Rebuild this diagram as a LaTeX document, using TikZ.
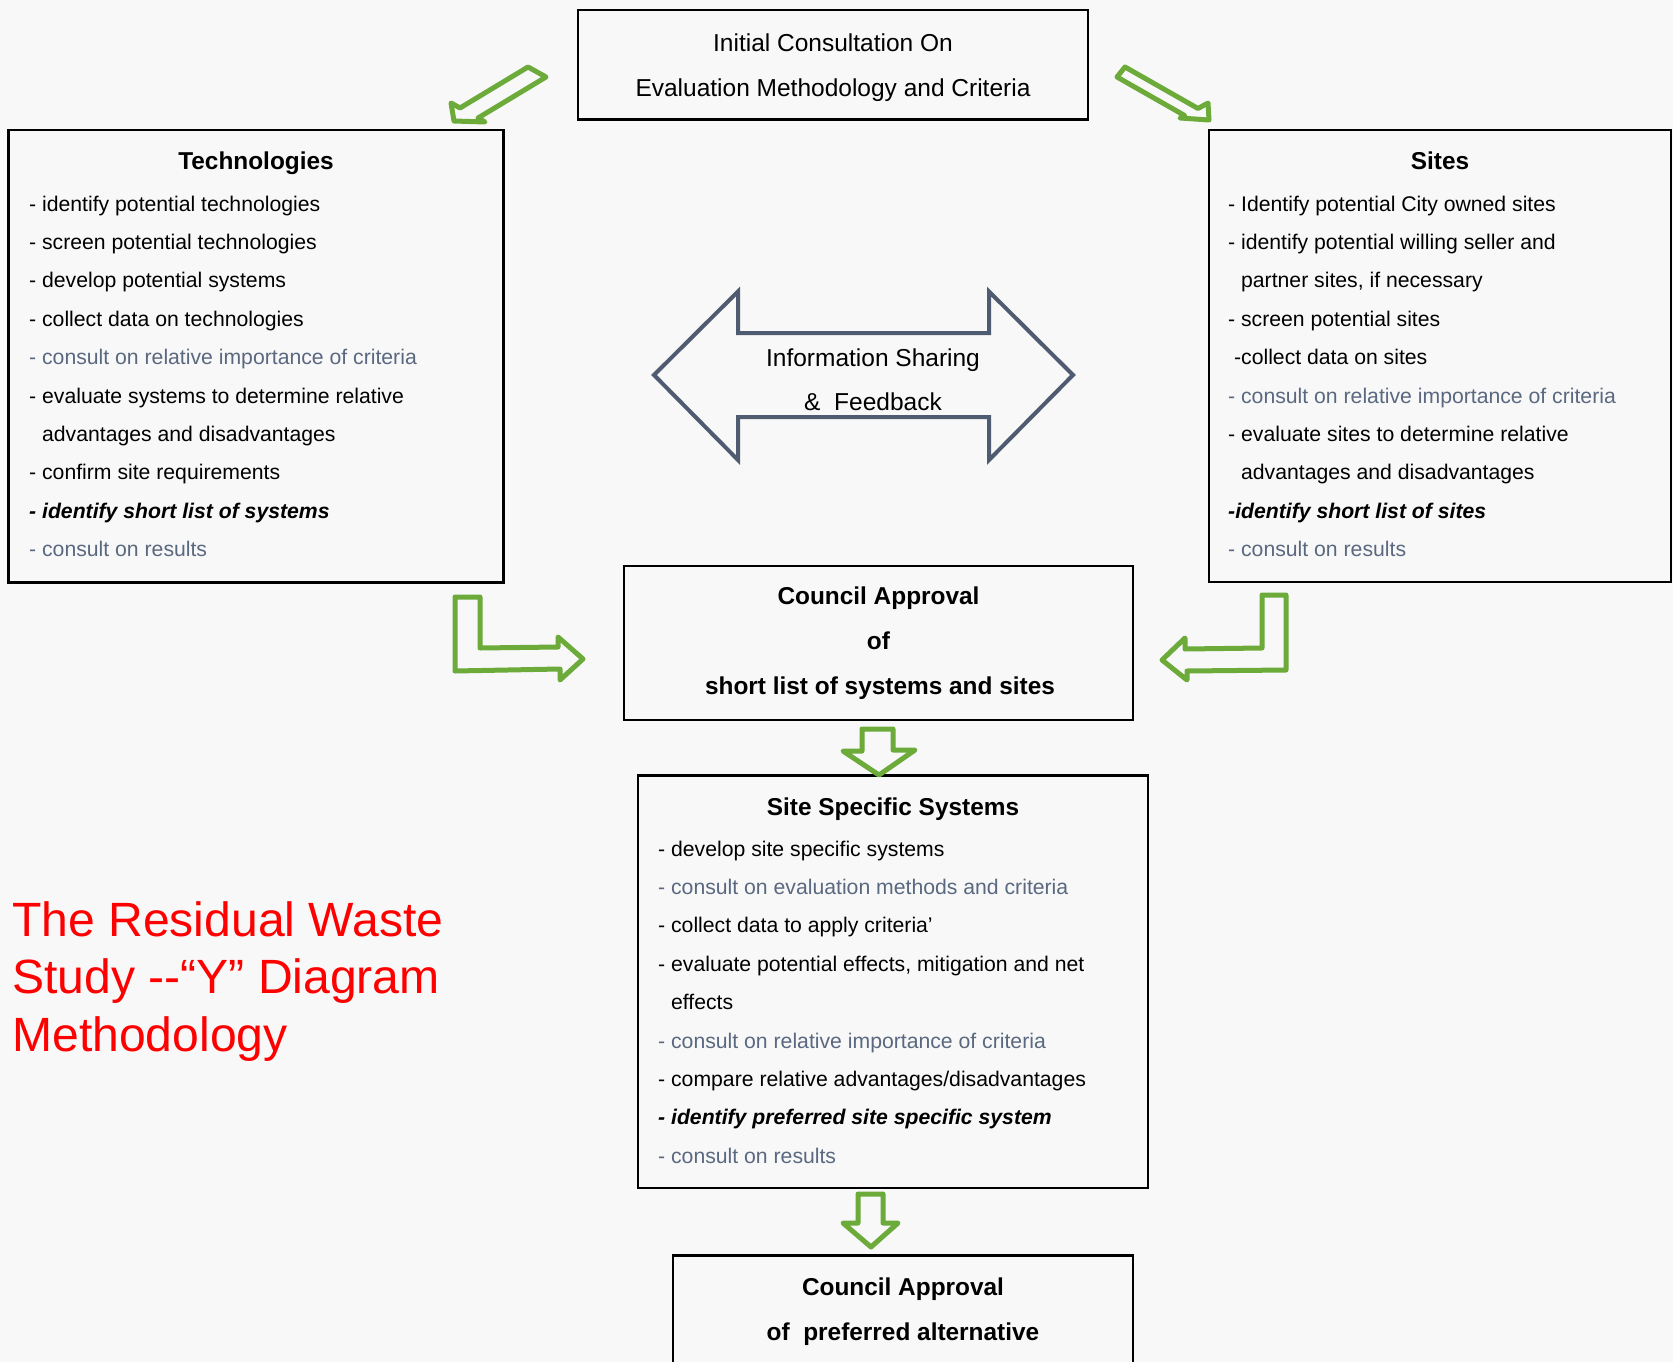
\documentclass[tikz,border=0pt]{standalone}
\usepackage{fontspec}
\setmainfont{Liberation Sans}
\usetikzlibrary{calc}

\definecolor{arrowgreen}{RGB}{108,170,58}
\definecolor{slate}{RGB}{79,91,112}
\definecolor{consult}{RGB}{90,104,128}
\definecolor{bgcol}{RGB}{248,248,248}

\begin{document}
\begin{tikzpicture}[x=1pt, y=-1pt,
  box/.style={draw=black, line width=2.5pt, inner sep=0pt},
  item/.style={anchor=base west, inner sep=0pt, font=\fontsize{21.2}{25}\selectfont},
  head/.style={anchor=base, inner sep=0pt, font=\fontsize{24.4}{29}\selectfont\bfseries},
  plain/.style={anchor=base, inner sep=0pt, font=\fontsize{24.5}{29}\selectfont},
  redtitle/.style={anchor=base west, inner sep=0pt, text=red, font=\fontsize{48.1}{57}\selectfont},
  greenarrow/.style={draw=arrowgreen, line width=5pt, line join=round},
  ]

  % 画布参数
  \def\rowstep{38.4}

  % 背景
  \fill[bgcol] (0,0) rectangle (1673,1362);
  \useasboundingbox (0,0) rectangle (1673,1362);

  % 方框
  \node[box, minimum width=510pt, minimum height=109.5pt] (init) at (833,64.75) {};
  \node[box, minimum width=495pt, minimum height=452.5pt] (tech) at (256,356.25) {};
  \node[box, minimum width=462pt, minimum height=452pt] (sites) at (1440,356) {};
  \node[box, minimum width=509pt, minimum height=154pt] (council) at (878.5,643) {};
  \node[box, minimum width=510pt, minimum height=412.5pt] (ssys) at (893,981.75) {};
  \node[box, minimum width=460pt, minimum height=124.5pt] (final) at (903,1317.75) {};

  % 顶部
  \node[plain] (init1) at (833,52) {Initial Consultation On};
  \node[plain] (init2) at (833,96.5) {Evaluation Methodology and Criteria};

  % 左框:Technologies
  \node[head] (techtitle) at (256,169) {Technologies};
  \foreach \txt [count=\i from 0] in {
    {- identify potential technologies},
    {- screen potential technologies},
    {- develop potential systems},
    {- collect data on technologies},
    {\color{consult}- consult on relative importance of criteria},
    {- evaluate systems to determine relative},
    {\hphantom{- }advantages and disadvantages},
    {- confirm site requirements},
    {\bfseries\itshape - identify short list of systems},
    {\color{consult}- consult on results}}
    \node[item] (tech-\i) at (29,211+\rowstep*\i) {\txt};

  % 右框:Sites
  \node[head] (sitestitle) at (1440,169) {Sites};
  \foreach \txt [count=\i from 0] in {
    {- Identify potential City owned sites},
    {- identify potential willing seller and},
    {\hphantom{- }partner sites, if necessary},
    {- screen potential sites},
    {\hspace*{5.9pt}-collect data on sites},
    {\color{consult}- consult on relative importance of criteria},
    {- evaluate sites to determine relative},
    {\hphantom{- }advantages and disadvantages},
    {\bfseries\itshape -identify short list of sites},
    {\color{consult}- consult on results}}
    \node[item] (sites-\i) at (1228,211+\rowstep*\i) {\txt};

  % 中间双向箭头
  \draw[slate, line width=4pt, line join=miter]
    (654,375) -- (738,291.5) -- (738,333) -- (989,333) -- (989,291.5)
    -- (1073,375) -- (989,460) -- (989,417) -- (738,417) -- (738,460) -- cycle;
  \node[plain] (info1) at (873,366) {Information Sharing};
  \node[plain] (info2) at (873,410) {\&\ \ Feedback};

  % 第一次审批
  \node[head] (council1) at (878.5,604) {Council Approval};
  \node[head] (council2) at (878.5,649) {of};
  \node[head] (council3) at (880,694) {short list of systems and sites};

  % 下框:Site Specific Systems
  \node[head] (ssystitle) at (893,815) {Site Specific Systems};
  \foreach \txt [count=\i from 0] in {
    {- develop site specific systems},
    {\color{consult}- consult on evaluation methods and criteria},
    {- collect data to apply criteria’},
    {- evaluate potential effects, mitigation and net},
    {\hphantom{- }effects},
    {\color{consult}- consult on relative importance of criteria},
    {- compare relative advantages/disadvantages},
    {\bfseries\itshape - identify preferred site specific system},
    {\color{consult}- consult on results}}
    \node[item] (ssys-\i) at (658,856+\rowstep*\i) {\txt};

  % 最终审批
  \node[head] (final1) at (903,1295) {Council Approval};
  \node[head] (final2) at (903,1340) {of\ \ preferred alternative};

  % 红色标题
  \node[redtitle] (title1) at (12,936) {The Residual Waste};
  \node[redtitle] (title2) at (12,993.5) {Study -{}-“Y” Diagram};
  \node[redtitle] (title3) at (12,1051) {Methodology};

  % 绿色箭头
  \draw[greenarrow] (528,67) -- (460,108) -- (451,103) -- (454,121)
    -- (485,122) -- (478,118) -- (546,77) -- cycle;
  \draw[greenarrow] (1125,67) -- (1198,108.5) -- (1208,103) -- (1209,120)
    -- (1180,118) -- (1184.6,115.5) -- (1117,77) -- cycle;
  \draw[greenarrow] (455,597) -- (480,597) -- (480,648) -- (558,647) -- (558,637)
    -- (583,659) -- (560,680) -- (560,669) -- (455,671) -- cycle;
  \draw[greenarrow] (1262,595) -- (1286,595) -- (1286,670) -- (1187,671) -- (1187,680)
    -- (1162,660) -- (1185,638) -- (1185,649) -- (1262,648) -- cycle;
  \draw[greenarrow] (862,729) -- (893,729) -- (893,750) -- (915,750) -- (879,775)
    -- (843,751) -- (862,751) -- cycle;
  \draw[greenarrow] (858,1194) -- (883,1194) -- (883,1223) -- (898,1223) -- (871,1247)
    -- (843,1223) -- (858,1223) -- cycle;

\end{tikzpicture}
\end{document}
